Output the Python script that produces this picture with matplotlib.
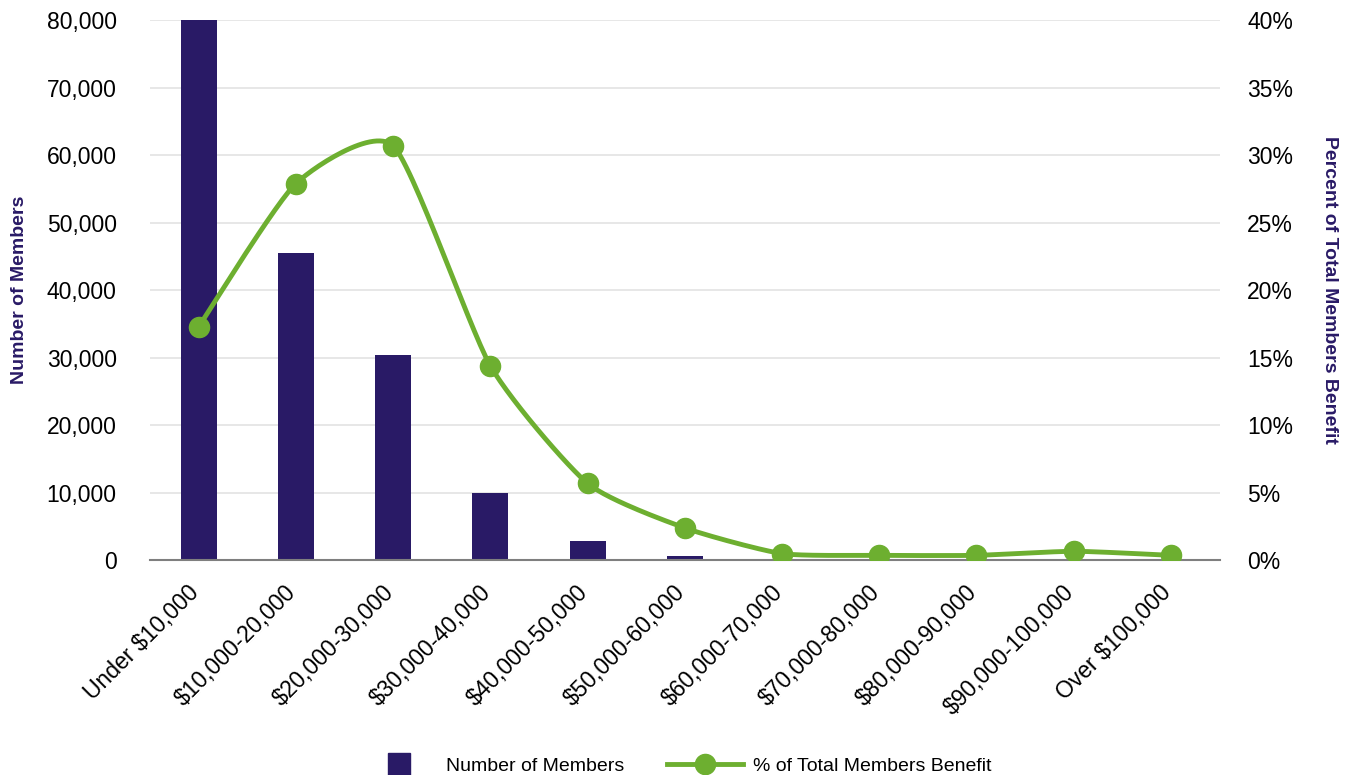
import matplotlib

matplotlib.use("Agg")
import matplotlib.pyplot as plt
import matplotlib.transforms as mtransforms
import numpy as np
from matplotlib.lines import Line2D
from matplotlib.ticker import FuncFormatter

categories = [
    "Under $10,000", "$10,000-20,000", "$20,000-30,000", "$30,000-40,000",
    "$40,000-50,000", "$50,000-60,000", "$60,000-70,000", "$70,000-80,000",
    "$80,000-90,000", "$90,000-100,000", "Over $100,000",
]
members = [80000, 45500, 30400, 9900, 2800, 700, 0, 0, 0, 0, 0]
pct_benefit = [17.3, 27.9, 30.7, 14.4, 5.7, 2.4, 0.5, 0.37, 0.37, 0.67, 0.37]

PURPLE = "#291A66"
GREEN = "#6DAF30"

plt.rcParams["font.family"] = ["Liberation Sans", "DejaVu Sans"]


def smooth(x, y, n=30, tension=0.6):
    # cardinal spline through the points, like a spreadsheet "smoothed line"
    x = np.asarray(x, float)
    y = np.asarray(y, float)
    px = np.concatenate([[x[0]], x, [x[-1]]])
    py = np.concatenate([[y[0]], y, [y[-1]]])
    xs, ys = [], []
    t = np.linspace(0, 1, n)
    h00 = 2 * t**3 - 3 * t**2 + 1
    h10 = t**3 - 2 * t**2 + t
    h01 = -2 * t**3 + 3 * t**2
    h11 = t**3 - t**2
    for i in range(1, len(px) - 2):
        for arr, out in ((px, xs), (py, ys)):
            p0, p1, p2, p3 = arr[i - 1], arr[i], arr[i + 1], arr[i + 2]
            m1 = tension * (p2 - p0) / 2
            m2 = tension * (p3 - p1) / 2
            out.extend(h00 * p1 + h10 * m1 + h01 * p2 + h11 * m2)
    return np.array(xs), np.array(ys)


fig = plt.figure(figsize=(13.52, 7.75), dpi=100)
ax = fig.add_axes([0.111, 0.277, 0.791, 0.697])
x = np.arange(len(categories))

ax.bar(x, members, width=0.37, color=PURPLE, zorder=2)
ax.set_xlim(-0.5, len(categories) - 0.5)
ax.set_ylim(0, 80000)
ax.set_yticks(np.arange(0, 80001, 10000))
ax.yaxis.set_major_formatter(FuncFormatter(lambda v, p: f"{int(v):,}"))
ax.grid(axis="y", color="#E3E3E3", linewidth=1.2, zorder=0)
ax.set_axisbelow(True)
for s in ("top", "right", "left"):
    ax.spines[s].set_visible(False)
ax.spines["bottom"].set_color("#7F7F7F")
ax.spines["bottom"].set_linewidth(1.5)
ax.tick_params(axis="y", length=0, pad=24, labelsize=16.5)
ax.tick_params(axis="x", length=0, pad=15, labelsize=16.5)
ax.set_xticks(x)
ax.set_xticklabels(categories, rotation=45, ha="right", va="top")
shift = mtransforms.ScaledTranslation(5 / 100, 0, fig.dpi_scale_trans)
for lbl in ax.get_xticklabels():
    lbl.set_transform(lbl.get_transform() + shift)
ax.set_ylabel("Number of Members", color=PURPLE, fontsize=14, fontweight="bold",
              va="center")
ax.yaxis.set_label_coords((19 - 150) / 1070, 0.5)

ax2 = ax.twinx()
ax2.set_ylim(0, 40)
ax2.set_yticks(np.arange(0, 41, 5))
ax2.yaxis.set_major_formatter(FuncFormatter(lambda v, p: f"{int(v)}%"))
for s in ax2.spines.values():
    s.set_visible(False)
ax2.tick_params(axis="y", length=0, pad=20, labelsize=16.5)
sx, sy = smooth(x, pct_benefit)
ax2.plot(sx, sy, color=GREEN, linewidth=3.5, zorder=3, solid_capstyle="round")
ax2.plot(x, pct_benefit, "o", color=GREEN, markersize=14.5, zorder=4)
ax2.set_ylabel("Percent of Total Members Benefit", color=PURPLE, fontsize=14,
               fontweight="bold", rotation=270, va="center")
ax2.yaxis.set_label_coords((1330 - 150) / 1070, 0.5)

handles = [
    Line2D([], [], color=PURPLE, linestyle="none", marker="s", markersize=16),
    Line2D([], [], color=GREEN, linewidth=3.5, marker="o", markersize=14.5),
]
fig.legend(handles, ["Number of Members", "% of Total Members Benefit"],
           loc="center", bbox_to_anchor=(0.5, 1 - 766 / 775), ncol=2, frameon=False,
           fontsize=14, handlelength=3.9, handletextpad=0.5, columnspacing=2.2,
           borderpad=0, borderaxespad=0)

fig.savefig("out.png", dpi=100)
